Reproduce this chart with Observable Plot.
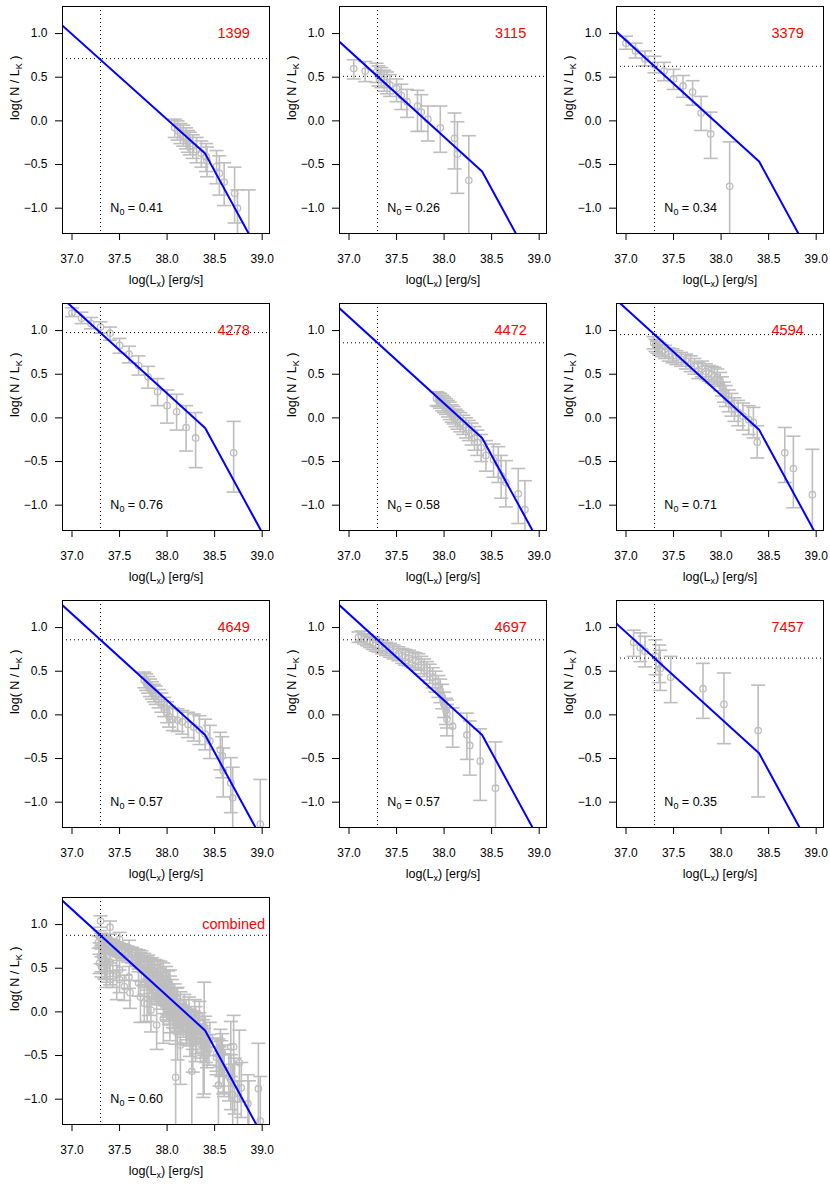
<!DOCTYPE html>
<html><head><meta charset="utf-8">
<script src="https://cdn.jsdelivr.net/npm/d3@7"></script>
<script src="https://cdn.jsdelivr.net/npm/@observablehq/plot@0.6"></script>
<style>
body{margin:0;background:#fff;}
#chart{position:relative;width:830px;height:1186px;background:#fff;overflow:hidden;font-family:"Liberation Sans",Arial,Helvetica,sans-serif;}
#chart svg{position:absolute;}
</style></head><body><div id="chart"></div>
<script>
// ---- panel metadata ----
const galaxies   = ["1399","3115","3379","4278","4472","4594","4649","4697","7457","combined"];
const n0Values   = [0.41, 0.26, 0.34, 0.76, 0.58, 0.71, 0.57, 0.57, 0.35, 0.60];
const refLogL    = 37.3;                     // vertical dotted line
const refY       = [0.713, 0.51, 0.625, 0.977, 0.86, 0.954, 0.86, 0.86, 0.65, 0.877]; // horizontal dotted line
const lineX      = [36.9, 38.4, 39.1];       // broken power-law vertices
const lineYLeft  = [1.09, 0.905, 1.02, 1.37, 1.255, 1.35, 1.255, 1.255, 1.045, 1.272];
const lineYBreak = [-0.375, -0.58, -0.465, -0.115, -0.23, -0.137, -0.23, -0.23, -0.44, -0.213];
const lineYRight = [-1.775, -1.98, -1.865, -1.515, -1.63, -1.537, -1.63, -1.63, -1.84, -1.613];
const xTicks = [37.0, 37.5, 38.0, 38.5, 39.0];
const yTicks = [-1.0, -0.5, 0.0, 0.5, 1.0];

// ---- data points: [logLx, logN, lower, upper] ----
const pts1399 = [
 [38.08,-0.08,-0.19,0.02],[38.11,-0.11,-0.22,0.00],[38.14,-0.14,-0.26,-0.03],[38.17,-0.17,-0.29,-0.05],
 [38.20,-0.20,-0.32,-0.08],[38.22,-0.23,-0.36,-0.11],[38.24,-0.26,-0.39,-0.13],[38.27,-0.29,-0.43,-0.16],
 [38.31,-0.33,-0.48,-0.19],[38.36,-0.37,-0.53,-0.23],[38.41,-0.41,-0.58,-0.26],[38.42,-0.46,-0.64,-0.30],
 [38.52,-0.52,-0.72,-0.34],[38.55,-0.60,-0.85,-0.40],[38.60,-0.70,-0.97,-0.48],[38.71,-0.83,-1.17,-0.53],
 [38.74,-1.00,-1.45,-0.79],[38.86,-1.40,-2.00,-0.79]];
const pts3115 = [
 [37.05,0.60,0.48,0.70],[37.17,0.57,0.45,0.68],[37.29,0.56,0.44,0.66],[37.31,0.52,0.40,0.63],
 [37.34,0.50,0.38,0.61],[37.37,0.47,0.34,0.58],[37.40,0.44,0.31,0.56],[37.43,0.41,0.28,0.53],
 [37.50,0.37,0.22,0.48],[37.55,0.29,0.13,0.42],[37.61,0.22,0.04,0.36],[37.72,0.17,-0.12,0.35],
 [37.76,0.10,-0.12,0.30],[37.83,0.02,-0.23,0.17],[37.96,-0.08,-0.36,0.17],[38.11,-0.20,-0.55,0.09],
 [38.14,-0.38,-0.83,-0.01],[38.26,-0.68,-1.60,-0.17]];
const pts3379 = [
 [37.00,0.89,0.82,0.97],[37.10,0.80,0.72,0.89],[37.20,0.71,0.63,0.80],[37.30,0.64,0.55,0.74],
 [37.40,0.57,0.46,0.67],[37.50,0.48,0.36,0.59],[37.60,0.40,0.27,0.52],[37.70,0.33,0.18,0.46],
 [37.79,0.09,-0.11,0.28],[37.89,-0.15,-0.43,0.10],[38.09,-0.75,-1.60,-0.24]];
const pts4278 = [
 [37.0,1.20,1.16,1.26],[37.1,1.14,1.08,1.21],[37.2,1.08,1.02,1.15],[37.3,1.04,0.97,1.10],
 [37.4,0.97,0.89,1.04],[37.5,0.83,0.74,0.91],[37.6,0.73,0.63,0.82],[37.7,0.60,0.49,0.71],
 [37.8,0.47,0.34,0.59],[37.9,0.30,0.14,0.45],[38.0,0.14,-0.06,0.32],[38.1,0.07,-0.14,0.27],
 [38.2,-0.11,-0.38,0.14],[38.3,-0.23,-0.57,0.06],[38.7,-0.40,-0.85,-0.04]];
const pts4472 = [
 [37.92,0.22,0.14,0.30],[37.94,0.21,0.13,0.29],[37.96,0.19,0.11,0.28],[37.98,0.17,0.08,0.26],
 [38.00,0.15,0.06,0.24],[38.02,0.13,0.04,0.22],[38.04,0.10,0.01,0.20],[38.06,0.08,-0.02,0.18],
 [38.08,0.05,-0.05,0.15],[38.10,0.03,-0.07,0.13],[38.12,0.00,-0.10,0.10],[38.14,-0.02,-0.13,0.08],
 [38.17,-0.05,-0.16,0.06],[38.20,-0.08,-0.19,0.03],[38.23,-0.11,-0.23,0.00],[38.26,-0.14,-0.26,-0.03],
 [38.29,-0.18,-0.31,-0.06],[38.32,-0.23,-0.37,-0.10],[38.35,-0.28,-0.43,-0.14],[38.39,-0.34,-0.50,-0.19],
 [38.44,-0.43,-0.61,-0.26],[38.52,-0.48,-0.68,-0.30],[38.57,-0.52,-0.74,-0.33],[38.60,-0.66,-0.92,-0.43],
 [38.65,-0.74,-1.02,-0.49],[38.78,-0.87,-1.21,-0.58],[38.85,-1.05,-1.50,-0.72]];
const pts4594 = [
 [37.29,0.86,0.79,0.93],[37.31,0.83,0.76,0.90],[37.33,0.81,0.74,0.88],[37.35,0.79,0.72,0.86],
 [37.38,0.77,0.70,0.84],[37.41,0.75,0.68,0.83],[37.45,0.73,0.65,0.80],[37.49,0.71,0.63,0.79],
 [37.53,0.69,0.61,0.77],[37.58,0.67,0.59,0.75],[37.63,0.65,0.56,0.73],[37.68,0.62,0.53,0.71],
 [37.72,0.59,0.50,0.68],[37.76,0.54,0.45,0.63],[37.80,0.56,0.47,0.65],[37.84,0.53,0.44,0.62],
 [37.87,0.51,0.42,0.60],[37.90,0.50,0.40,0.59],[37.93,0.48,0.38,0.58],[37.96,0.46,0.36,0.56],
 [37.99,0.42,0.31,0.52],[38.01,0.36,0.25,0.47],[38.03,0.30,0.18,0.41],[38.05,0.25,0.13,0.37],
 [38.08,0.20,0.07,0.32],[38.11,0.15,0.02,0.28],[38.14,0.10,-0.04,0.23],[38.18,0.06,-0.09,0.20],
 [38.23,0.02,-0.14,0.17],[38.29,-0.02,-0.19,0.14],[38.34,-0.05,-0.23,0.12],[38.38,-0.28,-0.46,-0.09],
 [38.67,-0.40,-0.74,-0.11],[38.76,-0.58,-1.03,-0.21],[38.96,-0.88,-1.60,-0.36]];
const pts4649 = [
 [37.76,0.40,0.31,0.49],[37.78,0.37,0.28,0.47],[37.80,0.34,0.25,0.44],[37.82,0.31,0.21,0.41],
 [37.84,0.28,0.18,0.38],[37.86,0.25,0.15,0.35],[37.88,0.22,0.12,0.33],[37.91,0.18,0.08,0.29],
 [37.94,0.14,0.03,0.25],[37.97,0.09,-0.02,0.20],[38.00,0.03,-0.09,0.15],[38.02,-0.02,-0.14,0.10],
 [38.06,-0.05,-0.18,0.08],[38.11,-0.06,-0.19,0.07],[38.16,-0.08,-0.22,0.05],[38.22,-0.11,-0.26,0.03],
 [38.28,-0.14,-0.30,0.01],[38.34,-0.17,-0.34,-0.01],[38.40,-0.22,-0.40,-0.05],[38.45,-0.30,-0.50,-0.12],
 [38.56,-0.40,-0.63,-0.20],[38.58,-0.47,-0.72,-0.25],[38.59,-0.64,-0.94,-0.38],[38.67,-0.78,-1.12,-0.49],
 [38.69,-0.95,-1.40,-0.60],[38.98,-1.25,-2.00,-0.74]];
const pts4697 = [
 [37.10,0.89,0.83,0.95],[37.13,0.90,0.84,0.96],[37.16,0.87,0.81,0.93],[37.19,0.85,0.79,0.92],
 [37.22,0.84,0.77,0.90],[37.25,0.82,0.75,0.89],[37.28,0.80,0.73,0.87],[37.31,0.79,0.72,0.86],
 [37.35,0.77,0.70,0.85],[37.39,0.76,0.68,0.83],[37.43,0.74,0.66,0.82],[37.47,0.72,0.64,0.80],
 [37.52,0.70,0.62,0.78],[37.56,0.68,0.59,0.76],[37.59,0.66,0.57,0.75],[37.63,0.65,0.56,0.74],
 [37.67,0.63,0.54,0.72],[37.70,0.62,0.52,0.71],[37.73,0.61,0.51,0.70],[37.76,0.57,0.47,0.67],
 [37.79,0.54,0.44,0.64],[37.82,0.51,0.40,0.61],[37.85,0.47,0.36,0.58],[37.88,0.43,0.31,0.54],
 [37.91,0.38,0.26,0.50],[37.94,0.33,0.20,0.45],[37.96,0.28,0.14,0.41],[37.98,0.21,0.07,0.35],
 [38.00,0.12,-0.03,0.26],[38.02,0.05,-0.11,0.19],[38.03,0.02,-0.15,0.17],[38.03,-0.05,-0.24,0.12],
 [38.09,-0.13,-0.37,0.08],[38.24,-0.23,-0.51,0.02],[38.27,-0.35,-0.69,-0.07],[38.38,-0.53,-0.98,-0.16],
 [38.54,-0.84,-1.60,-0.31]];
const pts7457 = [
 [37.08,0.83,0.67,0.97],[37.15,0.77,0.61,0.94],[37.20,0.73,0.55,0.90],[37.31,0.67,0.46,0.86],
 [37.35,0.58,0.37,0.80],[37.36,0.53,0.28,0.74],[37.47,0.43,0.14,0.67],[37.81,0.30,-0.04,0.59],
 [38.03,0.12,-0.33,0.48],[38.39,-0.18,-0.94,0.34]];
const ptsCombined = [pts1399, pts3115, pts3379, pts4278, pts4472, pts4594, pts4649, pts4697, pts7457]
  .flat().filter(d => d[0] >= 37.28);
const panelPoints = [pts1399, pts3115, pts3379, pts4278, pts4472, pts4594, pts4649, pts4697, pts7457, ptsCombined];

// ---- drawing ----
const GRAY = "#bebebe";
const capSymbol = {draw(ctx, size) { const w = Math.sqrt(size / Math.PI); ctx.moveTo(-w, 0); ctx.lineTo(w, 0); }};
const FONT = "'Liberation Sans', Arial, Helvetica, sans-serif";

function addSubscripts(svg) {
  svg.querySelectorAll("text").forEach(t => {
    const s = t.textContent;
    if (!s.includes("_{")) return;
    const parts = s.split(/_\{([^}]*)\}/);
    while (t.firstChild) t.removeChild(t.firstChild);
    parts.forEach((p, i) => {
      if (!p) return;
      const ts = document.createElementNS("http://www.w3.org/2000/svg", "tspan");
      ts.textContent = p;
      if (i % 2 === 1) { ts.setAttribute("font-size", "72%"); ts.setAttribute("dy", "0.35em"); }
      else if (i > 0) { ts.setAttribute("dy", "-0.252em"); }
      t.appendChild(ts);
    });
  });
}

function panel(k) {
  const pts = panelPoints[k];
  const lineData = lineX.map((x, i) => ({x, y: [lineYLeft[k], lineYBreak[k], lineYRight[k]][i]}));
  return Plot.plot({
    width: 277, height: 297,
    marginLeft: 62, marginRight: 8, marginTop: 6, marginBottom: 64,
    style: {fontFamily: FONT, fontSize: "12px", background: "white", color: "black", overflow: "visible"},
    x: {domain: [36.9, 39.077], ticks: xTicks, tickFormat: ".1f", tickSize: 7, tickPadding: 14, label: null},
    y: {domain: [-1.29, 1.31], ticks: yTicks, tickFormat: ".1f", tickSize: 7, tickPadding: 8, label: null},
    marks: [
      Plot.ruleX(pts, {x: d => d[0], y1: d => d[2], y2: d => d[3], stroke: GRAY, strokeWidth: 1.6, clip: true}),
      Plot.dot(pts, {x: d => d[0], y: d => d[2], symbol: capSymbol, r: 7, stroke: GRAY, fill: "none", strokeWidth: 1.6, clip: true}),
      Plot.dot(pts, {x: d => d[0], y: d => d[3], symbol: capSymbol, r: 7, stroke: GRAY, fill: "none", strokeWidth: 1.6, clip: true}),
      Plot.dot(pts, {x: d => d[0], y: d => d[1], r: 3.2, stroke: GRAY, fill: "none", strokeWidth: 1.3, clip: true}),
      Plot.ruleX([refLogL], {stroke: "black", strokeWidth: 1, strokeDasharray: "1,3"}),
      Plot.ruleY([refY[k]], {stroke: "black", strokeWidth: 1, strokeDasharray: "1,3"}),
      Plot.line(lineData, {x: "x", y: "y", stroke: "#0000ff", strokeWidth: 2, clip: true}),
      Plot.text([galaxies[k]], {x: 38.7, y: 1.0, text: d => d, fill: "red", fontSize: 14.5, textAnchor: "middle", lineAnchor: "middle"}),
      Plot.text([n0Values[k]], {x: 37.68, y: -1.0, text: d => `N_{0} = ${d.toFixed(2)}`, fill: "black", fontSize: 12.5, textAnchor: "middle", lineAnchor: "middle"}),
      Plot.text(["log(L_{x}) [erg/s]"], {text: d => d, frameAnchor: "bottom", dy: 46, lineAnchor: "middle", fontSize: 12.5, fill: "black"}),
      Plot.text(["log( N / L_{K} )"], {text: d => d, frameAnchor: "left", dx: -48, rotate: -90, lineAnchor: "middle", fontSize: 12.5, fill: "black"}),
      Plot.frame({stroke: "black", strokeWidth: 1})
    ]
  });
}

const chart = document.getElementById("chart");
galaxies.forEach((g, k) => {
  const svg = panel(k);
  svg.style.left = (k % 3) * 277 + "px";
  svg.style.top = Math.floor(k / 3) * 297 + "px";
  addSubscripts(svg);
  chart.appendChild(svg);
});
</script></body></html>
